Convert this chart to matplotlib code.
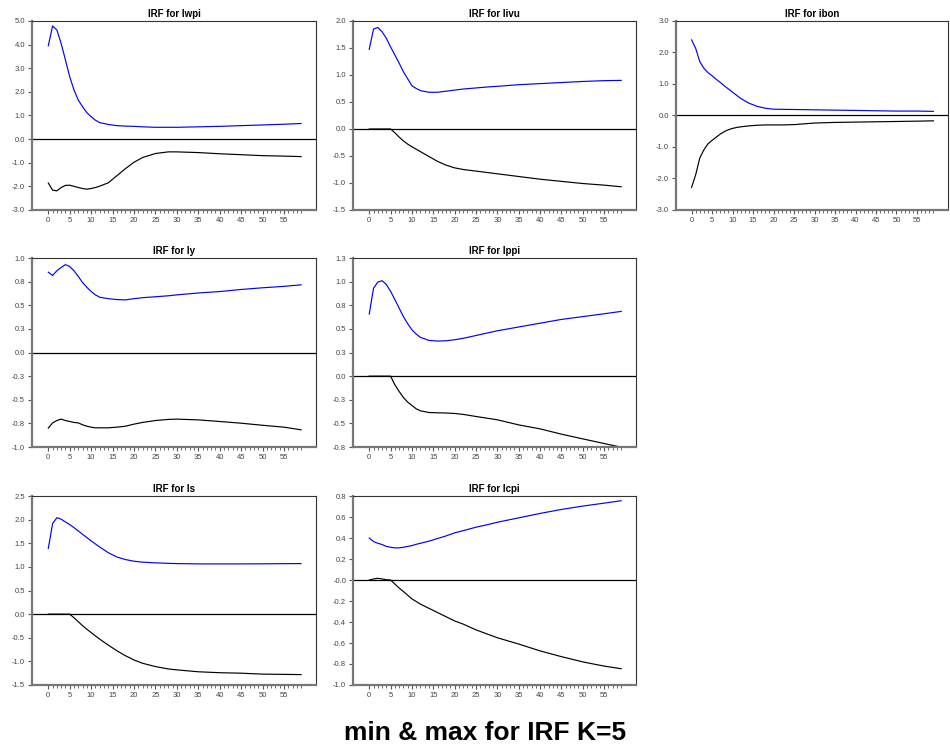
import matplotlib
matplotlib.use("Agg")
import matplotlib.pyplot as plt
from matplotlib.ticker import FixedLocator

plt.rcParams['font.family'] = ['Liberation Sans', 'DejaVu Sans']

steps = [0, 1, 2, 3, 4, 5, 6, 7, 8, 9, 10, 11, 12, 14, 16, 18, 20, 22, 25, 28, 30, 35, 40, 45, 50, 55, 59]

lwpi_max = [3.95, 4.79, 4.62, 4.05, 3.35, 2.64, 2.08, 1.65, 1.37, 1.12, 0.95, 0.80, 0.70, 0.62, 0.57, 0.55, 0.54, 0.52, 0.50, 0.50, 0.50, 0.52, 0.54, 0.57, 0.60, 0.63, 0.66]
lwpi_min = [-1.86, -2.16, -2.19, -2.05, -1.96, -1.95, -2.00, -2.05, -2.09, -2.12, -2.09, -2.05, -1.99, -1.85, -1.55, -1.25, -0.98, -0.78, -0.61, -0.54, -0.54, -0.57, -0.62, -0.66, -0.70, -0.72, -0.74]

livu_max = [1.475, 1.85, 1.88, 1.80, 1.68, 1.52, 1.37, 1.22, 1.06, 0.93, 0.80, 0.75, 0.71, 0.68, 0.68, 0.70, 0.72, 0.74, 0.76, 0.78, 0.79, 0.82, 0.84, 0.86, 0.88, 0.895, 0.90]
livu_min = [0, 0, 0, 0, 0, 0, -0.07, -0.15, -0.22, -0.28, -0.33, -0.375, -0.42, -0.51, -0.60, -0.67, -0.72, -0.75, -0.78, -0.81, -0.83, -0.88, -0.93, -0.97, -1.01, -1.04, -1.07]

ibon_max = [2.40, 2.13, 1.71, 1.50, 1.36, 1.26, 1.15, 1.05, 0.94, 0.84, 0.74, 0.64, 0.54, 0.39, 0.29, 0.23, 0.20, 0.195, 0.19, 0.185, 0.18, 0.17, 0.16, 0.15, 0.14, 0.14, 0.13]
ibon_min = [-2.28, -1.88, -1.35, -1.09, -0.90, -0.79, -0.69, -0.59, -0.51, -0.45, -0.41, -0.38, -0.36, -0.33, -0.31, -0.30, -0.30, -0.30, -0.29, -0.26, -0.24, -0.22, -0.21, -0.20, -0.19, -0.18, -0.17]

ly_max = [0.85, 0.815, 0.865, 0.90, 0.93, 0.91, 0.865, 0.805, 0.74, 0.69, 0.645, 0.61, 0.585, 0.57, 0.56, 0.557, 0.57, 0.58, 0.59, 0.60, 0.61, 0.63, 0.645, 0.667, 0.685, 0.70, 0.716]
ly_min = [-0.80, -0.745, -0.72, -0.705, -0.72, -0.73, -0.74, -0.745, -0.765, -0.78, -0.79, -0.797, -0.797, -0.797, -0.79, -0.78, -0.758, -0.74, -0.72, -0.708, -0.705, -0.713, -0.73, -0.748, -0.77, -0.79, -0.818]

lppi_max = [0.657, 0.93, 0.995, 1.01, 0.97, 0.897, 0.81, 0.72, 0.63, 0.555, 0.49, 0.445, 0.41, 0.378, 0.371, 0.374, 0.385, 0.40, 0.43, 0.46, 0.48, 0.52, 0.56, 0.60, 0.63, 0.66, 0.685]
lppi_min = [0, 0, 0, 0, 0, 0, -0.092, -0.162, -0.226, -0.275, -0.31, -0.346, -0.367, -0.385, -0.388, -0.39, -0.395, -0.405, -0.427, -0.448, -0.462, -0.516, -0.558, -0.614, -0.664, -0.713, -0.752]

ls_max = [1.39, 1.915, 2.04, 2.01, 1.95, 1.895, 1.83, 1.76, 1.69, 1.62, 1.55, 1.485, 1.42, 1.30, 1.21, 1.155, 1.12, 1.10, 1.085, 1.075, 1.07, 1.063, 1.063, 1.063, 1.065, 1.068, 1.07]
ls_min = [0, 0, 0, 0, 0, 0, -0.077, -0.16, -0.245, -0.32, -0.39, -0.46, -0.53, -0.655, -0.775, -0.88, -0.97, -1.04, -1.11, -1.16, -1.18, -1.22, -1.24, -1.25, -1.27, -1.275, -1.28]

lcpi_max = [0.40, 0.366, 0.35, 0.338, 0.32, 0.312, 0.306, 0.306, 0.312, 0.32, 0.328, 0.34, 0.35, 0.37, 0.395, 0.42, 0.449, 0.47, 0.503, 0.53, 0.55, 0.592, 0.634, 0.672, 0.704, 0.732, 0.755]
lcpi_min = [0.0, 0.01, 0.016, 0.01, 0.003, 0.0, -0.038, -0.076, -0.11, -0.145, -0.18, -0.205, -0.23, -0.27, -0.31, -0.35, -0.39, -0.42, -0.475, -0.52, -0.55, -0.61, -0.675, -0.73, -0.78, -0.82, -0.845]

# y ticks and their labels as printed on the chart
lwpi_ticks = [-3, -2, -1, 0, 1, 2, 3, 4, 5]
lwpi_labels = ["-3.0", "-2.0", "-1.0", "0.0", "1.0", "2.0", "3.0", "4.0", "5.0"]
livu_ticks = [-1.5, -1.0, -0.5, 0, 0.5, 1.0, 1.5, 2.0]
livu_labels = ["-1.5", "-1.0", "-0.5", "0.0", "0.5", "1.0", "1.5", "2.0"]
ibon_ticks = [-3, -2, -1, 0, 1, 2, 3]
ibon_labels = ["-3.0", "-2.0", "-1.0", "0.0", "1.0", "2.0", "3.0"]
ly_ticks = [-1.0, -0.75, -0.5, -0.25, 0, 0.25, 0.5, 0.75, 1.0]
ly_labels = ["-1.0", "-0.8", "-0.5", "-0.3", "0.0", "0.3", "0.5", "0.8", "1.0"]
lppi_ticks = [-0.75, -0.5, -0.25, 0, 0.25, 0.5, 0.75, 1.0, 1.25]
lppi_labels = ["-0.8", "-0.5", "-0.3", "0.0", "0.3", "0.5", "0.8", "1.0", "1.3"]
ls_ticks = [-1.5, -1.0, -0.5, 0, 0.5, 1.0, 1.5, 2.0, 2.5]
ls_labels = ["-1.5", "-1.0", "-0.5", "0.0", "0.5", "1.0", "1.5", "2.0", "2.5"]
lcpi_ticks = [-1.0, -0.8, -0.6, -0.4, -0.2, 0, 0.2, 0.4, 0.6, 0.8]
lcpi_labels = ["-1.0", "-0.8", "-0.6", "-0.4", "-0.2", "-0.0", "0.2", "0.4", "0.6", "0.8"]

x_major = list(range(0, 60, 5))
x_minor = [v for v in range(0, 60) if v % 5 != 0]

panels = [
    ("lwpi", lwpi_max, lwpi_min, lwpi_ticks, lwpi_labels, 0, 0),
    ("livu", livu_max, livu_min, livu_ticks, livu_labels, 0, 1),
    ("ibon", ibon_max, ibon_min, ibon_ticks, ibon_labels, 0, 2),
    ("ly", ly_max, ly_min, ly_ticks, ly_labels, 1, 0),
    ("lppi", lppi_max, lppi_min, lppi_ticks, lppi_labels, 1, 1),
    ("ls", ls_max, ls_min, ls_ticks, ls_labels, 2, 0),
    ("lcpi", lcpi_max, lcpi_min, lcpi_ticks, lcpi_labels, 2, 1),
]

fig = plt.figure(figsize=(9.5, 7.47), dpi=100)

col_left = [0.0337, 0.3716, 0.7116]
col_width = [0.299, 0.298, 0.286]
row_bottom = [0.7189, 0.4016, 0.083]
h = 0.253

for name, ymax, ymin, yt, yl, r, c in panels:
    ax = fig.add_axes([col_left[c], row_bottom[r], col_width[c], h])
    ax.plot(steps, ymax, color="blue", lw=0.85)
    ax.plot(steps, ymin, color="black", lw=0.85)
    ax.axhline(0, color="black", lw=0.9)
    ax.set_xlim(-3.8, 62.5)
    ax.set_ylim(yt[0], yt[-1])
    ax.set_yticks(yt)
    ax.set_yticklabels(yl)
    ax.xaxis.set_major_locator(FixedLocator(x_major))
    ax.xaxis.set_minor_locator(FixedLocator(x_minor))
    ax.set_xticklabels([str(v) for v in x_major])
    ax.tick_params(axis="both", which="major", labelsize=5.5, labelcolor="#444444",
                   color="#555555", length=3, width=0.8, pad=2)
    ax.tick_params(axis="x", which="minor", color="#555555", length=2, width=0.6)
    for side in ["left", "bottom"]:
        ax.spines[side].set_color("#777777")
        ax.spines[side].set_linewidth(1.6)
    for side in ["top", "right"]:
        ax.spines[side].set_color("#333333")
        ax.spines[side].set_linewidth(0.8)
    ax.set_title("IRF for " + name, fontsize=7, fontweight="bold", pad=3)

fig.text(0.5105, 0.0094, "min & max for IRF K=5", ha="center", va="baseline",
         fontsize=19, fontweight="bold")

fig.savefig("out.png", dpi=100)
